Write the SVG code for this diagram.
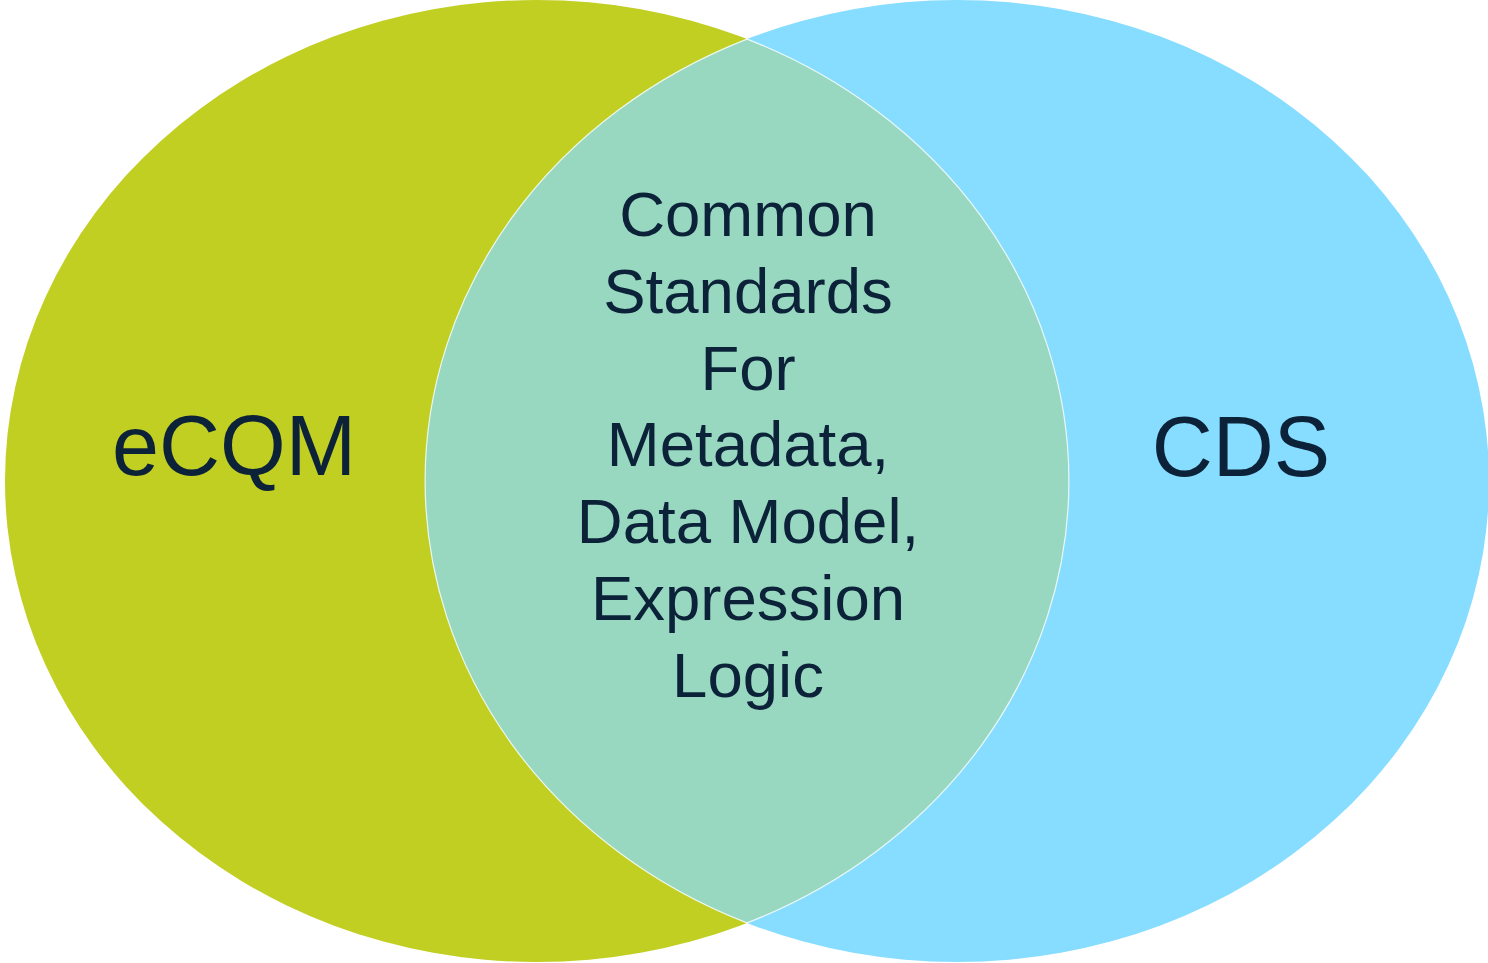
<svg xmlns="http://www.w3.org/2000/svg" width="1488" height="963" viewBox="0 0 1488 963">
  <style>
    .lbl { font-family: "Liberation Sans", Arial, sans-serif; fill: #0C2239; text-anchor: middle; }
    .big { font-size: 84.5px; }
    .mid { font-size: 63.5px; }
  </style>
  <rect width="1488" height="963" fill="#FFFFFF"/>
  <g id="ecqm">
    <ellipse cx="537" cy="481" rx="532" ry="481" fill="#C1CE22"/>
  </g>
  <g id="cds">
    <ellipse cx="957" cy="481" rx="532" ry="481" fill="#87DDFF"/>
  </g>
  <g id="common">
    <path d="M747,39.1 A532,481 0 0,1 747,922.9 A532,481 0 0,1 747,39.1 Z" fill="#98D8C0" stroke="#FFFFFF" stroke-width="1.2" stroke-opacity="0.8"/>
  </g>
  <g id="labels">
    <text class="lbl big" x="234" y="475">eCQM</text>
    <text class="lbl big" x="1241" y="476">CDS</text>
    <text class="lbl mid" x="748" y="236">Common</text>
    <text class="lbl mid" x="748" y="312.8">Standards</text>
    <text class="lbl mid" x="748" y="389.6">For</text>
    <text class="lbl mid" x="748" y="466.4">Metadata,</text>
    <text class="lbl mid" x="748" y="543.2">Data Model,</text>
    <text class="lbl mid" x="748" y="620">Expression</text>
    <text class="lbl mid" x="748" y="696.8">Logic</text>
  </g>
  <g id="connectors"></g>
</svg>
